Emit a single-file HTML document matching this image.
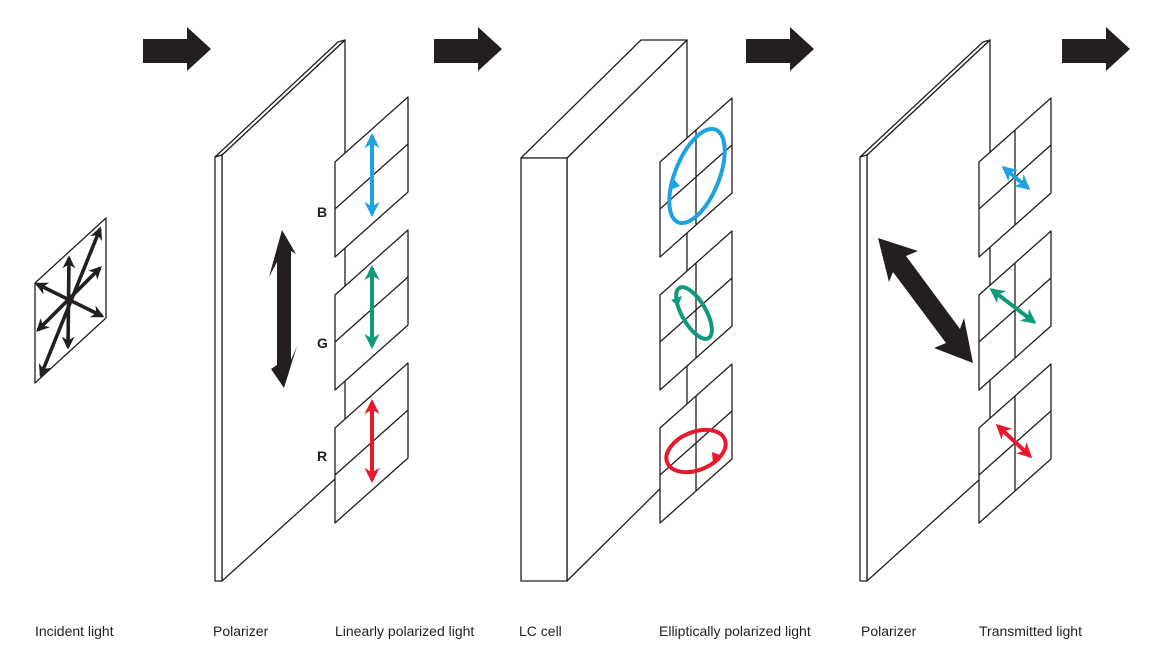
<!DOCTYPE html>
<html><head><meta charset="utf-8"><style>
html,body{margin:0;padding:0;background:#fff;}
svg{display:block;}
text{font-family:"Liberation Sans",sans-serif;}
</style></head><body>
<svg width="1163" height="659" viewBox="0 0 1163 659" xmlns="http://www.w3.org/2000/svg">
<defs>
<marker id="hk" viewBox="0 0 10 10" refX="8" refY="5" markerWidth="3.6" markerHeight="3.6" orient="auto-start-reverse"><path d="M0,0 L10,5 L0,10 L3,5z" fill="#231f20"/></marker>
<marker id="hb" viewBox="0 0 10 10" refX="8" refY="5" markerWidth="3.8" markerHeight="3.8" orient="auto-start-reverse"><path d="M0,0 L10,5 L0,10 L3,5z" fill="#1ca3e0"/></marker>
<marker id="hg" viewBox="0 0 10 10" refX="8" refY="5" markerWidth="3.8" markerHeight="3.8" orient="auto-start-reverse"><path d="M0,0 L10,5 L0,10 L3,5z" fill="#10997a"/></marker>
<marker id="hr" viewBox="0 0 10 10" refX="8" refY="5" markerWidth="3.8" markerHeight="3.8" orient="auto-start-reverse"><path d="M0,0 L10,5 L0,10 L3,5z" fill="#e8192c"/></marker>
</defs>
<g fill="#231f20">
<path d="M143,39 H187 V27 L211,49 L187,71 V63 H143Z"/>
<path d="M434,39 H478 V27 L502,49 L478,71 V63 H434Z"/>
<path d="M746,39 H790 V27 L814,49 L790,71 V63 H746Z"/>
<path d="M1062,39 H1106 V27 L1130,49 L1106,71 V63 H1062Z"/>
</g>
<g fill="#fff" stroke="#231f20" stroke-width="1.3" stroke-linejoin="round">
<path d="M35,283 L106,218 L106,318 L35,383Z"/>
<path d="M222,155 L345,40 L345,470 L222,581Z"/>
<path d="M215,157 L338,42 L345,40 L222,155Z"/>
<path d="M215,157 L222,155 L222,581 L215,581Z"/>
<path d="M567,158 L687,40 L687,462 L567,581Z"/>
<path d="M521,158 L641,40 L687,40 L567,158Z"/>
<path d="M521,158 L567,158 L567,581 L521,581Z"/>
<path d="M867,155 L990,40 L990,470 L867,581Z"/>
<path d="M860,157 L983,42 L990,40 L867,155Z"/>
<path d="M860,157 L867,155 L867,581 L860,581Z"/>
<path d="M335,162 L408,97 L408,192 L335,257Z M335,209 L408,144"/>
<path d="M335,295 L408,230 L408,325 L335,390Z M335,342 L408,277"/>
<path d="M335,428 L408,363 L408,458 L335,523Z M335,475 L408,410"/>
<path d="M660,162 L732,98 L732,193 L660,257Z M660,209 L732,145 M696,130 V225"/>
<path d="M660,295 L732,231 L732,326 L660,390Z M660,342 L732,278 M696,263 V358"/>
<path d="M660,428 L732,364 L732,459 L660,523Z M660,475 L732,411 M696,396 V491"/>
<path d="M979,162 L1051,98 L1051,193 L979,257Z M979,209 L1051,145 M1015,130 V225"/>
<path d="M979,295 L1051,231 L1051,326 L979,390Z M979,342 L1051,278 M1015,263 V358"/>
<path d="M979,428 L1051,364 L1051,459 L979,523Z M979,475 L1051,411 M1015,396 V491"/>
</g>
<g stroke="#231f20" stroke-width="3.6" fill="none" marker-start="url(#hk)" marker-end="url(#hk)">
<line x1="41" y1="375" x2="100" y2="229"/>
<line x1="68" y1="347" x2="69" y2="258"/>
<line x1="38" y1="330" x2="100" y2="268"/>
<line x1="37" y1="284" x2="102" y2="316"/>
</g>
<path fill="#231f20" d="M282,230 L296,254 L291,251 L291,360 L297,346 L284,388 L271,369 L277,365 L277,262 L269,277Z"/>
<path fill="#231f20" d="M878,238 L918,251 L906,256 L960,329 L964,318 L973,363 L934,348 L946,343 L893,272 L889,282Z"/>
<g stroke-width="4" fill="none">
<line x1="372" y1="136" x2="372" y2="214" stroke="#1ca3e0" marker-start="url(#hb)" marker-end="url(#hb)"/>
<line x1="372" y1="268" x2="372" y2="346" stroke="#10997a" marker-start="url(#hg)" marker-end="url(#hg)"/>
<line x1="372" y1="402" x2="372" y2="480" stroke="#e8192c" marker-start="url(#hr)" marker-end="url(#hr)"/>
<line x1="1004" y1="168" x2="1028" y2="188" stroke="#1ca3e0" marker-start="url(#hb)" marker-end="url(#hb)"/>
<line x1="992" y1="290" x2="1034" y2="322" stroke="#10997a" marker-start="url(#hg)" marker-end="url(#hg)"/>
<line x1="998" y1="426" x2="1030" y2="456" stroke="#e8192c" marker-start="url(#hr)" marker-end="url(#hr)"/>
</g>
<g fill="none" stroke-width="4">
<ellipse cx="697" cy="176" rx="22" ry="50" transform="rotate(22 697 176)" stroke="#1ca3e0"/>
<ellipse cx="694" cy="313" rx="12" ry="29" transform="rotate(-30 694 313)" stroke="#10997a"/>
<ellipse cx="696" cy="451" rx="31" ry="19" transform="rotate(-22 696 451)" stroke="#e8192c"/>
</g>
<path d="M672,177 L680,186 L670,190Z" fill="#1ca3e0"/>
<path d="M678,306 L682,296 L671,300Z" fill="#10997a"/>
<path d="M720,455 L713,464 L712,452Z" fill="#e8192c"/>
<g font-weight="bold" font-size="14" fill="#231f20">
<text x="317" y="217">B</text>
<text x="317" y="348">G</text>
<text x="317" y="461">R</text>
</g>
<g font-size="14" fill="#231f20">
<text x="35" y="636">Incident light</text>
<text x="213" y="636">Polarizer</text>
<text x="335" y="636">Linearly polarized light</text>
<text x="519" y="636">LC cell</text>
<text x="659" y="636">Elliptically polarized light</text>
<text x="861" y="636">Polarizer</text>
<text x="979" y="636">Transmitted light</text>
</g>
</svg>
</body></html>
